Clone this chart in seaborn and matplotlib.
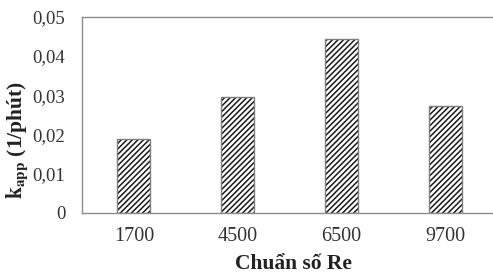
import matplotlib
matplotlib.use('Agg')
import matplotlib.pyplot as plt
import seaborn as sns
from matplotlib.ticker import FuncFormatter

re_numbers = ['1700', '4500', '6500', '9700']
k_app = [0.0188, 0.0296, 0.0442, 0.0273]

sns.set_style('white')
plt.rcParams['font.family'] = ['Liberation Serif', 'DejaVu Serif']
plt.rcParams['mathtext.fontset'] = 'stix'
plt.rcParams['hatch.linewidth'] = 1.1

fig = plt.figure(figsize=(4.93, 2.74), dpi=100)
ax = fig.add_axes([82 / 493, 61.3 / 274, 415 / 493, 196 / 274])

# hatch layer, then gray outline on top
sns.barplot(x=re_numbers, y=k_app, ax=ax, color='white', edgecolor='#1a1a1a',
            hatch='//////', linewidth=0, width=0.32, saturation=1)
sns.barplot(x=re_numbers, y=k_app, ax=ax, fill=False, edgecolor='#7f7f7f',
            linewidth=1.0, width=0.32)

ax.set_ylim(0, 0.05)
ax.set_yticks([0, 0.01, 0.02, 0.03, 0.04, 0.05])
ax.yaxis.set_major_formatter(FuncFormatter(
    lambda v, p: '0' if v == 0 else f'{v:.2f}'.replace('.', ',')))
ax.tick_params(axis='y', length=0, pad=12, labelsize=13.5, labelcolor='#333333')
ax.tick_params(axis='x', length=0, pad=10, labelsize=14.5, labelcolor='#333333')

for side in ['left', 'top', 'bottom']:
    ax.spines[side].set_visible(True)
    ax.spines[side].set_color('#8c8c8c')
    ax.spines[side].set_linewidth(1.0)
ax.spines['right'].set_visible(False)

ax.set_xlabel('')
fig.text(293 / 493, 1 - 264 / 274, 'Chuẩn số Re', ha='center', va='center',
         fontsize=15.5, fontweight='bold', color='#222222')
fig.text(17 / 493, 1 - 140 / 274, r'$\mathbf{k}_{\mathbf{app}}$ (1/phút)',
         ha='center', va='center', rotation=90, fontsize=15.5,
         fontweight='bold', color='#222222')

fig.savefig('out.png', dpi=100)
